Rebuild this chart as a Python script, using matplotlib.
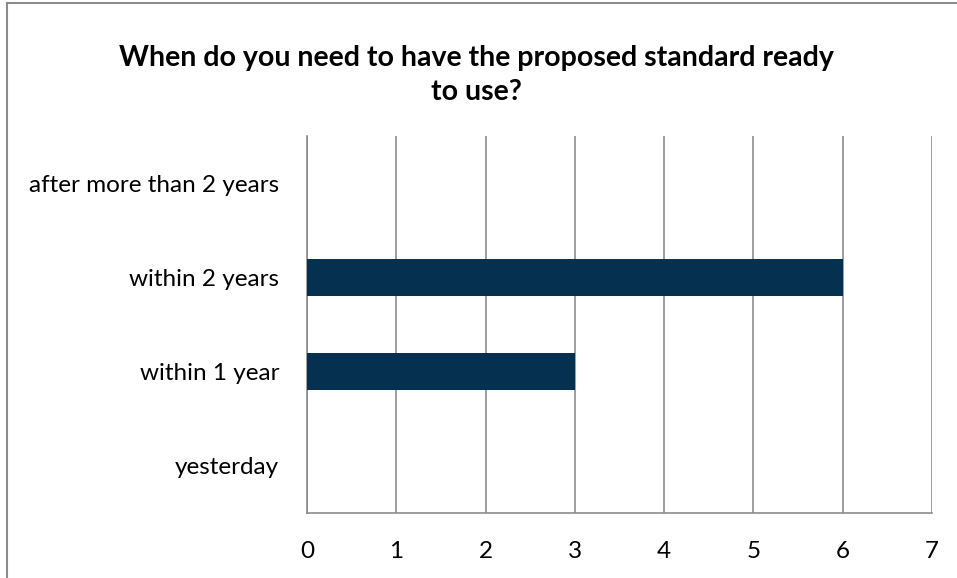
import matplotlib.pyplot as plt
from matplotlib.lines import Line2D

categories = ["yesterday", "within 1 year", "within 2 years", "after more than 2 years"]
counts = [0, 3, 6, 0]
xticks = [0, 1, 2, 3, 4, 5, 6, 7]
title = "When do you need to have the proposed standard ready\nto use?"

plt.rcParams['font.family'] = ['Lato', 'DejaVu Sans']

W, H = 957, 578
fig = plt.figure(figsize=(W / 100, H / 100), dpi=100)
ax = fig.add_axes([307 / W, 1 - 513 / H, (932 - 307) / W, (513 - 136) / H])

ax.barh(range(len(categories)), counts, height=0.4, color='#06304f', zorder=3)
ax.set_xlim(0, 7)
ax.set_ylim(-0.5, len(categories) - 0.5)
ax.set_xticks(xticks)
ax.set_yticks(range(len(categories)))
ax.set_yticklabels(categories)
ax.tick_params(axis='both', length=0, labelsize=17.5, colors='black')
ax.tick_params(axis='x', pad=20)
ax.tick_params(axis='y', pad=20)
ax.grid(axis='x', color='#8c8c8c', linewidth=1.2, zorder=0)
for s in ['top', 'right']:
    ax.spines[s].set_visible(False)
for s in ['left', 'bottom']:
    ax.spines[s].set_color('#8c8c8c')
    ax.spines[s].set_linewidth(1.2)

fig.text(476 / W, 1 - 75 / H, title, ha='center', va='center',
         fontsize=20.5, fontweight='bold', linespacing=1.4)

# chart area frame (partially cropped in the reference)
fig.add_artist(Line2D([7 / W, 7 / W], [0, 1 - 3 / H], color='#8c8c8c', linewidth=1.5))
fig.add_artist(Line2D([7 / W, 1], [1 - 3 / H, 1 - 3 / H], color='#8c8c8c', linewidth=1.5))

fig.savefig('out.png', dpi=100)
